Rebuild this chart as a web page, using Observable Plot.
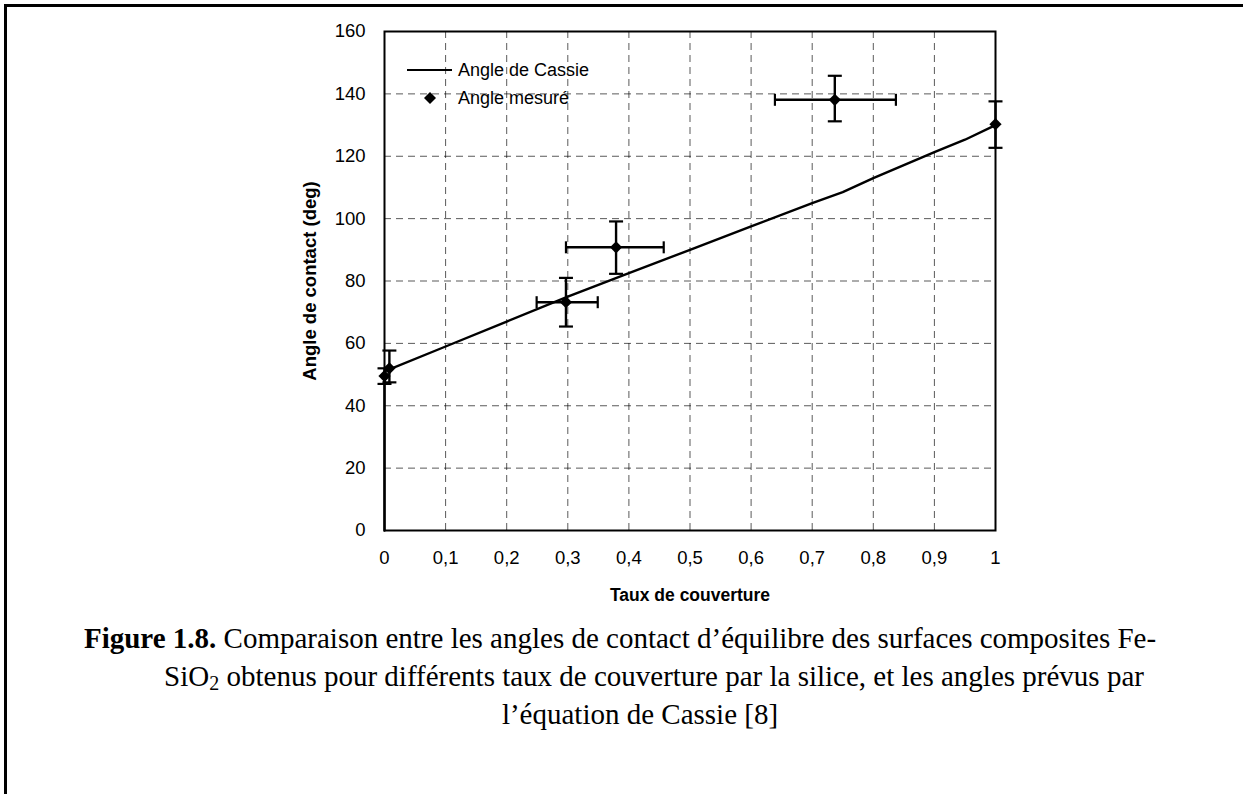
<!DOCTYPE html>
<html>
<head>
<meta charset="utf-8">
<script src="https://cdn.jsdelivr.net/npm/d3@7"></script>
<script src="https://cdn.jsdelivr.net/npm/@observablehq/plot@0.6"></script>
<style>
  html, body { margin: 0; padding: 0; background: #fff; overflow: hidden; }
  #fig { position: relative; width: 1243px; height: 794px; overflow: hidden; }
  #border { position: absolute; left: 4px; top: 4px; width: 1400px; height: 900px;
            border-left: 3px solid #000; border-top: 3px solid #000; }
  #chart { position: absolute; left: 0; top: 0; }
  #legend { position: absolute; left: 0; top: 0; }
  #caption { position: absolute; left: -200px; top: 619px; width: 1660px; text-align: center;
             font-family: "Liberation Serif", "Times New Roman", serif; font-size: 29px;
             line-height: 38px; color: #000; white-space: nowrap; }
  #caption div { position: relative; }
</style>
</head>
<body>
<div id="fig">
  <div id="border"></div>
  <div id="chart"></div>
  <svg id="legend" width="1243" height="140" font-family="Liberation Sans, Arial, sans-serif" font-size="18">
    <line x1="407" x2="452" y1="70" y2="70" stroke="#000" stroke-width="2"></line>
    <text x="458" y="70" dominant-baseline="central">Angle de Cassie</text>
    <path d="M430,92 L436,98 L430,104 L424,98 Z" fill="#000"></path>
    <text x="458" y="98" dominant-baseline="central">Angle mesuré</text>
  </svg>
  <div id="caption">
    <div style="left:-10px"><b>Figure 1.8.</b> Comparaison entre les angles de contact d’équilibre des surfaces composites Fe-</div>
    <div style="left:24px">SiO<sub style="font-size:20px;vertical-align:-4px;line-height:0">2</sub> obtenus pour différents taux de couverture par la silice, et les angles prévus par</div>
    <div style="left:10px">l’équation de Cassie [8]</div>
  </div>
</div>
<script>
// ---- Data ----
const xTicks = [0, 0.1, 0.2, 0.3, 0.4, 0.5, 0.6, 0.7, 0.8, 0.9, 1];
const yTicks = [0, 20, 40, 60, 80, 100, 120, 140, 160];

// Cassie curve
const cassieX = [0, 0, 0.1, 0.2, 0.3, 0.4, 0.5, 0.6, 0.7, 0.75, 0.8, 0.9, 0.95, 1];
const cassieY = [0, 51, 59, 67, 75, 82.5, 90, 97.5, 105, 108.5, 113, 121.3, 125.3, 130];

// Measured angles
const measX   = [0, 0.008, 0.297, 0.379, 0.737, 1];
const measY   = [49.5, 52, 73.2, 90.8, 138.1, 130.3];
const measYlo = [47, 47.5, 65.4, 82.3, 131.2, 122.7];
const measYhi = [52, 57.7, 81, 99.1, 145.8, 137.6];
const measXlo = [null, null, 0.249, 0.297, 0.639, null];
const measXhi = [null, null, 0.349, 0.457, 0.837, null];

const cassie = cassieX.map((x, i) => ({x, y: cassieY[i]}));
const meas = measX.map((x, i) => ({x, y: measY[i], ylo: measYlo[i], yhi: measYhi[i], xlo: measXlo[i], xhi: measXhi[i]}));
const measH = meas.filter(d => d.xlo != null);

const hcap = {draw(ctx) { ctx.moveTo(-7, 0); ctx.lineTo(7, 0); }};
const vcap = {draw(ctx) { ctx.moveTo(0, -6); ctx.lineTo(0, 6); }};
const fmt = d => String(d).replace(".", ",");
const font = "Liberation Sans, Arial, sans-serif";

const chart = Plot.plot({
  width: 1243,
  height: 620,
  marginLeft: 384,
  marginRight: 248,
  marginTop: 31,
  marginBottom: 90,
  style: {fontFamily: font, fontSize: "18px", background: "transparent", color: "#000"},
  x: {domain: [0, 1]},
  y: {domain: [0, 160]},
  marks: [
    Plot.gridX(xTicks.slice(1, -1), {stroke: "#000", strokeOpacity: 0.65, strokeDasharray: "7,5", strokeWidth: 1}),
    Plot.gridY(yTicks.slice(1, -1), {stroke: "#000", strokeOpacity: 0.65, strokeDasharray: "7,5", strokeWidth: 1}),
    Plot.axisX(xTicks, {tickSize: 0, tickPadding: 20, tickFormat: fmt, label: null, fontSize: 18.5}),
    Plot.axisY(yTicks, {tickSize: 0, tickPadding: 19, label: null, fontSize: 18.5}),
    Plot.text(["Taux de couverture"], {frameAnchor: "bottom", dy: 70, fontWeight: "bold", fontSize: 17.5}),
    Plot.text(["Angle de contact (deg)"], {frameAnchor: "left", textAnchor: "middle", rotate: -90, dx: -74, fontWeight: "bold", fontSize: 18.5}),
    Plot.line(cassie, {x: "x", y: "y", stroke: "#000", strokeWidth: 2.4}),
    Plot.link(meas, {x1: "x", x2: "x", y1: "ylo", y2: "yhi", stroke: "#000", strokeWidth: 2.4}),
    Plot.link(measH, {x1: "xlo", x2: "xhi", y1: "y", y2: "y", stroke: "#000", strokeWidth: 2.4}),
    Plot.dot(meas, {x: "x", y: "yhi", symbol: hcap, stroke: "#000", strokeWidth: 2.2}),
    Plot.dot(meas, {x: "x", y: "ylo", symbol: hcap, stroke: "#000", strokeWidth: 2.2}),
    Plot.dot(measH, {x: "xlo", y: "y", symbol: vcap, stroke: "#000", strokeWidth: 2.2}),
    Plot.dot(measH, {x: "xhi", y: "y", symbol: vcap, stroke: "#000", strokeWidth: 2.2}),
    Plot.dot(meas, {x: "x", y: "y", symbol: "diamond2", r: 5.5, fill: "#000", stroke: "none"}),
    Plot.frame({stroke: "#000", strokeWidth: 2})
  ]
});
document.getElementById("chart").appendChild(chart);
</script>
</body>
</html>
